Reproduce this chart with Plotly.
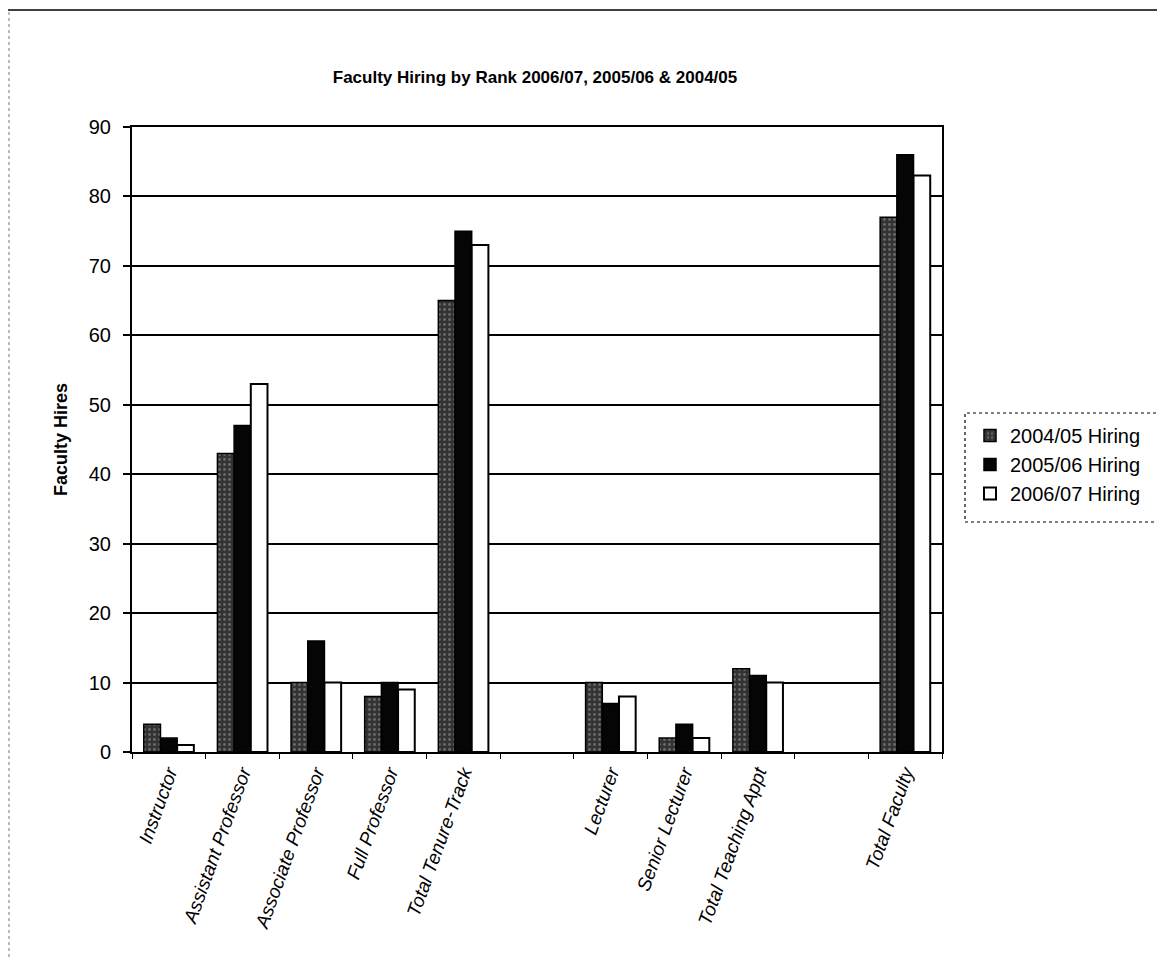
import plotly.graph_objects as go

categories = ["Instructor", "Assistant Professor", "Associate Professor", "Full Professor",
              "Total Tenure-Track", "Lecturer", "Senior Lecturer", "Total Teaching Appt",
              "Total Faculty"]
axis_order = ["Instructor", "Assistant Professor", "Associate Professor", "Full Professor",
              "Total Tenure-Track", " ", "Lecturer", "Senior Lecturer", "Total Teaching Appt",
              "  ", "Total Faculty"]
hiring_0405 = [4, 43, 10, 8, 65, 10, 2, 12, 77]
hiring_0506 = [2, 47, 16, 10, 75, 7, 4, 11, 86]
hiring_0607 = [1, 53, 10, 9, 73, 8, 2, 10, 83]
series_names = ["2004/05 Hiring", "2005/06 Hiring", "2006/07 Hiring"]
y_ticks = [0, 10, 20, 30, 40, 50, 60, 70, 80, 90]

FONT = "Arial, Liberation Sans, sans-serif"

fig = go.Figure()
fig.add_trace(go.Bar(
    name=series_names[0], x=categories, y=hiring_0405,
    marker=dict(color="#333333", line=dict(color="black", width=1.5),
                pattern=dict(shape=".", fgcolor="#a0a0a0", size=5, solidity=0.25)),
))
fig.add_trace(go.Bar(
    name=series_names[1], x=categories, y=hiring_0506,
    marker=dict(color="#050505", line=dict(color="black", width=1.5)),
))
fig.add_trace(go.Bar(
    name=series_names[2], x=categories, y=hiring_0607,
    marker=dict(color="white", line=dict(color="black", width=2)),
))

# page offset (body margin) compensation
OFF = 8
W, H = 1165 - OFF, 969 - OFF
L, R, T, B = 132 - OFF, 223, 127 - OFF, 217
pw, ph = W - L - R, H - T - B

def px(x):
    return (x - OFF - L) / pw

def py(y):
    return (H - B - (y - OFF)) / ph

fig.update_layout(
    width=W, height=H,
    margin=dict(l=L, r=R, t=T, b=B, pad=0),
    paper_bgcolor="white", plot_bgcolor="white",
    font=dict(family=FONT, color="black", size=18),
    barmode="group", bargap=0.32, bargroupgap=0,
    title=dict(text="<b>Faculty Hiring by Rank 2006/07, 2005/06 &amp; 2004/05</b>",
               x=px(535), xref="paper", xanchor="center",
               y=1 - (77 - OFF) / H, yref="container", yanchor="middle",
               font=dict(family=FONT, size=17, color="black")),
    legend=dict(x=px(970), y=py(416), xanchor="left", yanchor="top",
                font=dict(family=FONT, size=20, color="black"),
                bgcolor="rgba(0,0,0,0)", borderwidth=0,
                tracegroupgap=0, itemwidth=30),
    showlegend=True,
    xaxis=dict(type="category", categoryorder="array", categoryarray=axis_order,
               range=[-0.5, len(axis_order) - 0.5],
               showline=True, linecolor="black", linewidth=2, mirror=True,
               ticks="outside", tickson="boundaries", ticklen=5, tickcolor="black",
               tickangle=-70,
               tickfont=dict(family=FONT, size=19, color="black", style="italic"),
               showgrid=False),
    yaxis=dict(range=[0, 90], tickvals=y_ticks,
               showline=True, linecolor="black", linewidth=2, mirror=True,
               ticks="outside", ticklen=7, tickcolor="black", tickwidth=1.5,
               ticklabelstandoff=8,
               tickfont=dict(family=FONT, size=20, color="black"),
               showgrid=True, gridcolor="black", gridwidth=1.5,
               zeroline=False,
               title=dict(text="<b>Faculty Hires</b>", standoff=16,
                          font=dict(family=FONT, size=18, color="black"))),
    shapes=[
        dict(type="rect", xref="paper", yref="paper",
             x0=px(965), x1=px(1162), y0=py(522), y1=py(413),
             line=dict(color="black", width=1.2, dash="dot"), fillcolor="rgba(0,0,0,0)"),
        dict(type="line", xref="paper", yref="paper",
             x0=px(OFF), x1=px(1165), y0=py(10), y1=py(10),
             line=dict(color="black", width=1.5)),
        dict(type="line", xref="paper", yref="paper",
             x0=px(OFF + 1), x1=px(OFF + 1), y0=py(12), y1=py(960),
             line=dict(color="#777777", width=1, dash="dot")),
    ],
)

fig.write_html("out.html")
